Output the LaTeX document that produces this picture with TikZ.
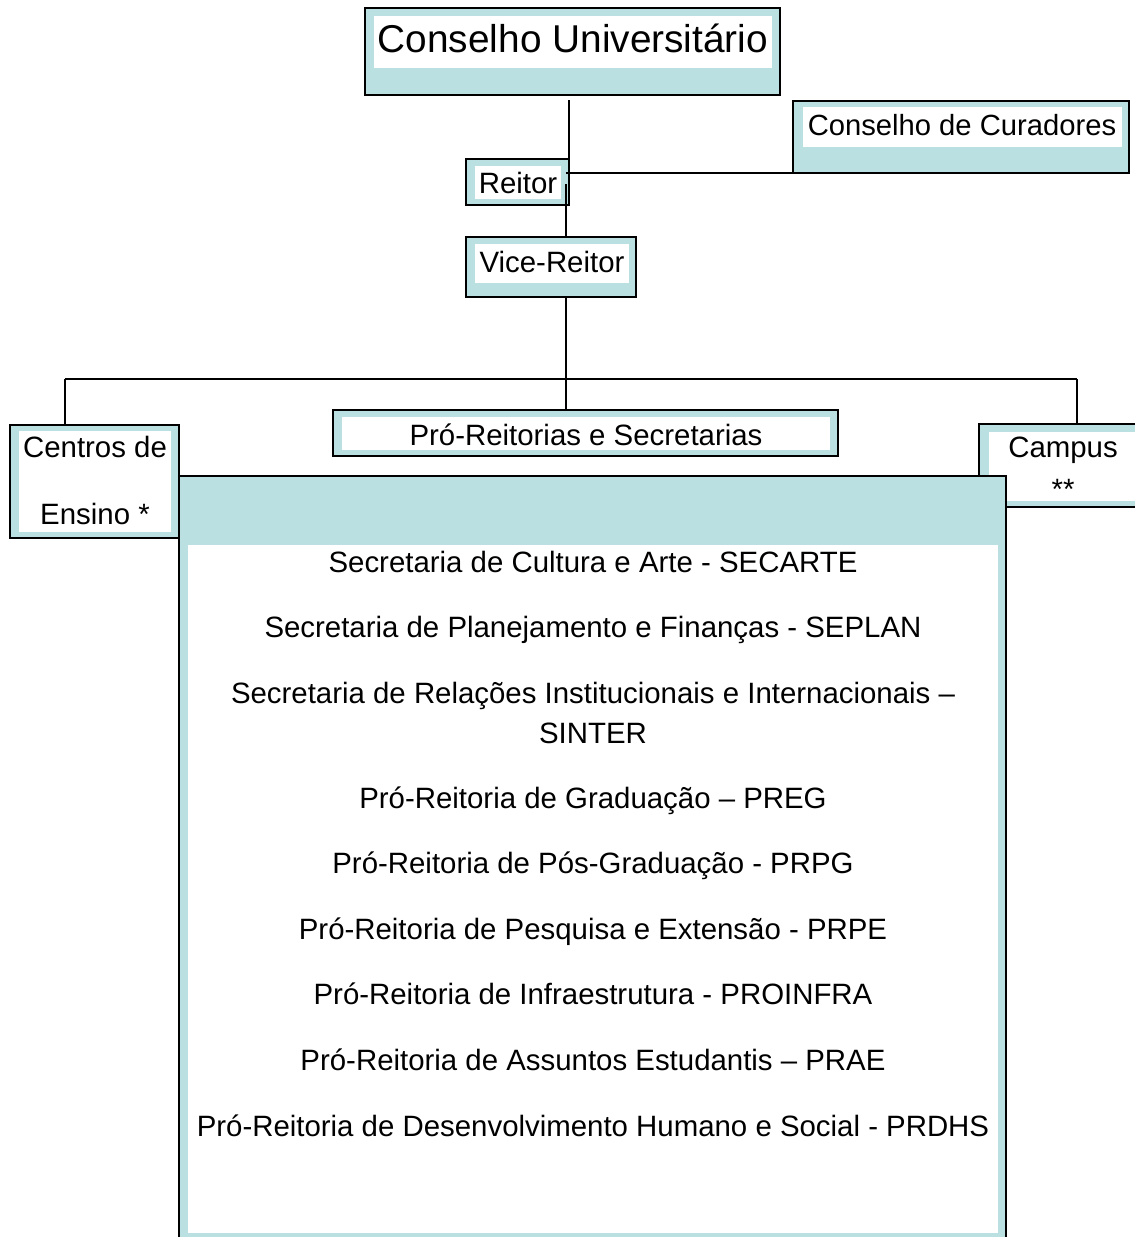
\documentclass[tikz,border=0pt]{standalone}
\usepackage{fontspec}
\setmainfont{Liberation Sans}
\usetikzlibrary{fit}
\definecolor{boxblue}{RGB}{186,224,226}
\begin{document}
\begin{tikzpicture}[x=1pt,y=-1pt,
  every node/.style={inner sep=0pt,outer sep=0pt},
  outerbox/.style={draw=black,line width=1.6pt,fill=boxblue,rectangle},
  innerwhite/.style={fill=white,rectangle},
  lbl/.style={font=\fontsize{29.4}{34}\selectfont,anchor=base,text=black},
  biglbl/.style={font=\fontsize{38.8}{46}\selectfont,anchor=base,text=black},
  link/.style={draw=black,line width=1.6pt}]
\useasboundingbox (0,0) rectangle (1135,1237);
\clip (0,0) rectangle (1135,1237);
\fill[white] (0,0) rectangle (1135,1237);

% connector points
\coordinate (cuo) at (569,100);
\coordinate (jr) at (569,173);
\coordinate (jh) at (566,173);
\coordinate (rv) at (566,184);
\coordinate (hl) at (65,379);
\coordinate (hr) at (1077,379);

% Conselho Universitario
\node[outerbox,fit={(365,8) (780,95)}] (cu) {};
\node[innerwhite,fit={(374,16) (772,68)}] (cuw) {};
\node[biglbl] (cut) at (573,52) {Conselho Universitário};

% Conselho de Curadores
\node[outerbox,fit={(793,101) (1129,173)}] (cur) {};
\node[innerwhite,fit={(803,107) (1122,147)}] (curw) {};
\node[lbl,font=\fontsize{29.2}{35}\selectfont] (curt) at (962,135) {Conselho de Curadores};

% Reitor
\node[outerbox,fit={(466,159) (569,205)}] (re) {};
\node[innerwhite,fit={(475,166) (561,199)}] (rew) {};
\node[lbl] (ret) at (518,193) {Reitor};

% Vice-Reitor
\node[outerbox,fit={(466,237) (636,297)}] (vr) {};
\node[innerwhite,fit={(475,244) (629,283)}] (vrw) {};
\node[lbl] (vrt) at (552,272) {Vice-Reitor};

% Pro-Reitorias e Secretarias
\node[outerbox,fit={(333,410) (838,456)}] (pr) {};
\node[innerwhite,fit={(342,417) (830,450)}] (prw) {};
\node[lbl] (prt) at (586,445) {Pró-Reitorias e Secretarias};

% Centros de Ensino
\node[outerbox,fit={(10,425) (179,538)}] (ce) {};
\node[innerwhite,fit={(19,431) (171,532)}] (cew) {};
\node[lbl] (cet1) at (95,457) {Centros de};
\node[lbl] (cet2) at (95,524) {Ensino *};

% Campus
\node[outerbox,fit={(979,424) (1150,507)}] (ca) {};
\node[innerwhite,fit={(989,432) (1150,501)}] (caw) {};
\node[lbl] (cat1) at (1063,457) {Campus};
\node[lbl] (cat2) at (1063,499) {**};

% big list box
\node[outerbox,fit={(179,476) (1006,1250)}] (bb) {};
\node[innerwhite,fit={(188,545) (998,1233)}] (bbw) {};
\node[lbl] (l1) at (593,572) {Secretaria de Cultura e Arte - SECARTE};
\node[lbl] (l2) at (593,637) {Secretaria de Planejamento e Finanças - SEPLAN};
\node[lbl] (l3a) at (593,703) {Secretaria de Relações Institucionais e Internacionais –};
\node[lbl] (l3b) at (593,743) {SINTER};
\node[lbl] (l4) at (593,808) {Pró-Reitoria de Graduação – PREG};
\node[lbl] (l5) at (593,873) {Pró-Reitoria de Pós-Graduação - PRPG};
\node[lbl] (l6) at (593,939) {Pró-Reitoria de Pesquisa e Extensão - PRPE};
\node[lbl] (l7) at (593,1004) {Pró-Reitoria de Infraestrutura - PROINFRA};
\node[lbl] (l8) at (593,1070) {Pró-Reitoria de Assuntos Estudantis – PRAE};
\node[lbl] (l9) at (593,1136) {Pró-Reitoria de Desenvolvimento Humano e Social - PRDHS};

% connectors
\draw[link] (cuo) -- (jr);
\draw[link] (jh) -- (cur.south west);
\draw[link] (rv) -- (rv |- vr.north);
\draw[link] (vr.south -| rv) -- (rv |- pr.north);
\draw[link] (hl) -- (hr);
\draw[link] (hl) -- (hl |- ce.north);
\draw[link] (hr) -- (hr |- ca.north);
\end{tikzpicture}
\end{document}
